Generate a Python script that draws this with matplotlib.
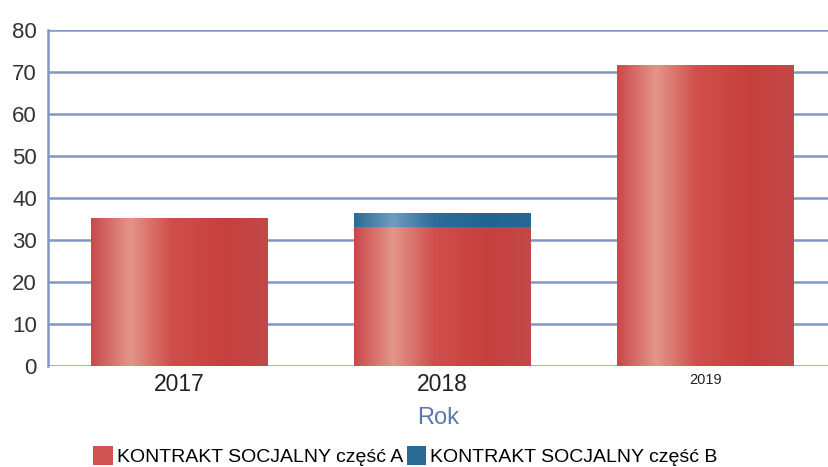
import numpy as np
import matplotlib.pyplot as plt
from matplotlib.colors import LinearSegmentedColormap
from matplotlib.patches import Patch

plt.rcParams['font.family'] = ['Liberation Sans', 'DejaVu Sans']

years = ['2017', '2018', '2019']
part_a = [35.2, 33.1, 71.7]
part_b = [0.0, 3.4, 0.0]
label_a = 'KONTRAKT SOCJALNY część A'
label_b = 'KONTRAKT SOCJALNY część B'

grid_col = '#8397c4'
red_cmap = LinearSegmentedColormap.from_list(
    'red', [(0, '#c9484a'), (0.22, '#e3968a'), (0.45, '#d04f4c'),
            (0.75, '#c6403e'), (1, '#c24848')])
blue_cmap = LinearSegmentedColormap.from_list(
    'blue', [(0, '#2a6b96'), (0.22, '#6f9cbc'), (0.45, '#2c6d99'),
             (0.75, '#1f6593'), (1, '#286892')])

fig = plt.figure(figsize=(8.29, 4.67), dpi=100)
ax = fig.add_axes([0.058, 0.216, 0.942, 0.72])

x = np.arange(len(years))
width = 0.67
grad = np.linspace(0, 1, 256).reshape(1, -1)


def shade(bars, cmap):
    for b in bars:
        if b.get_height() <= 0:
            continue
        x0, y0 = b.get_x(), b.get_y()
        im = ax.imshow(grad, cmap=cmap, aspect='auto', zorder=3,
                       extent=[x0, x0 + b.get_width(), y0, y0 + b.get_height()])
        im.set_clip_path(b)


bars_a = ax.bar(x, part_a, width, color='#c9484a', zorder=3)
bars_b = ax.bar(x, part_b, width, bottom=part_a, color='#2a6b96', zorder=3)
shade(bars_a, red_cmap)
shade(bars_b, blue_cmap)

ax.set_xlim(-0.5, 2.47)
ax.set_ylim(0, 80)
ax.set_yticks(range(0, 81, 10))
ax.yaxis.grid(True, color=grid_col, linewidth=1.8)
ax.set_axisbelow(True)
for s in ['top', 'right', 'bottom']:
    ax.spines[s].set_visible(False)
ax.spines['left'].set_color(grid_col)
ax.spines['left'].set_linewidth(1.8)
ax.tick_params(axis='y', length=0, labelsize=16, colors='#333333', pad=8)
ax.tick_params(axis='x', length=0, colors='#222222', pad=5)
ax.set_xticks(x)
ax.set_xticklabels(years)
for lbl, fs in zip(ax.get_xticklabels(), [16.5, 16.5, 10.5]):
    lbl.set_fontsize(fs)
ax.set_xlabel('Rok', color='#5a78b0', fontsize=17, labelpad=8)

handles = [Patch(facecolor='#cf5350', label=label_a),
           Patch(facecolor='#2a6b96', label=label_b)]
fig.legend(handles=handles, loc='center', bbox_to_anchor=(0.489, 0.024),
           ncol=2, frameon=False, fontsize=14, handlelength=1.0,
           handleheight=1.15, handletextpad=0.2, columnspacing=0.2)

fig.savefig('out.png', dpi=100)
